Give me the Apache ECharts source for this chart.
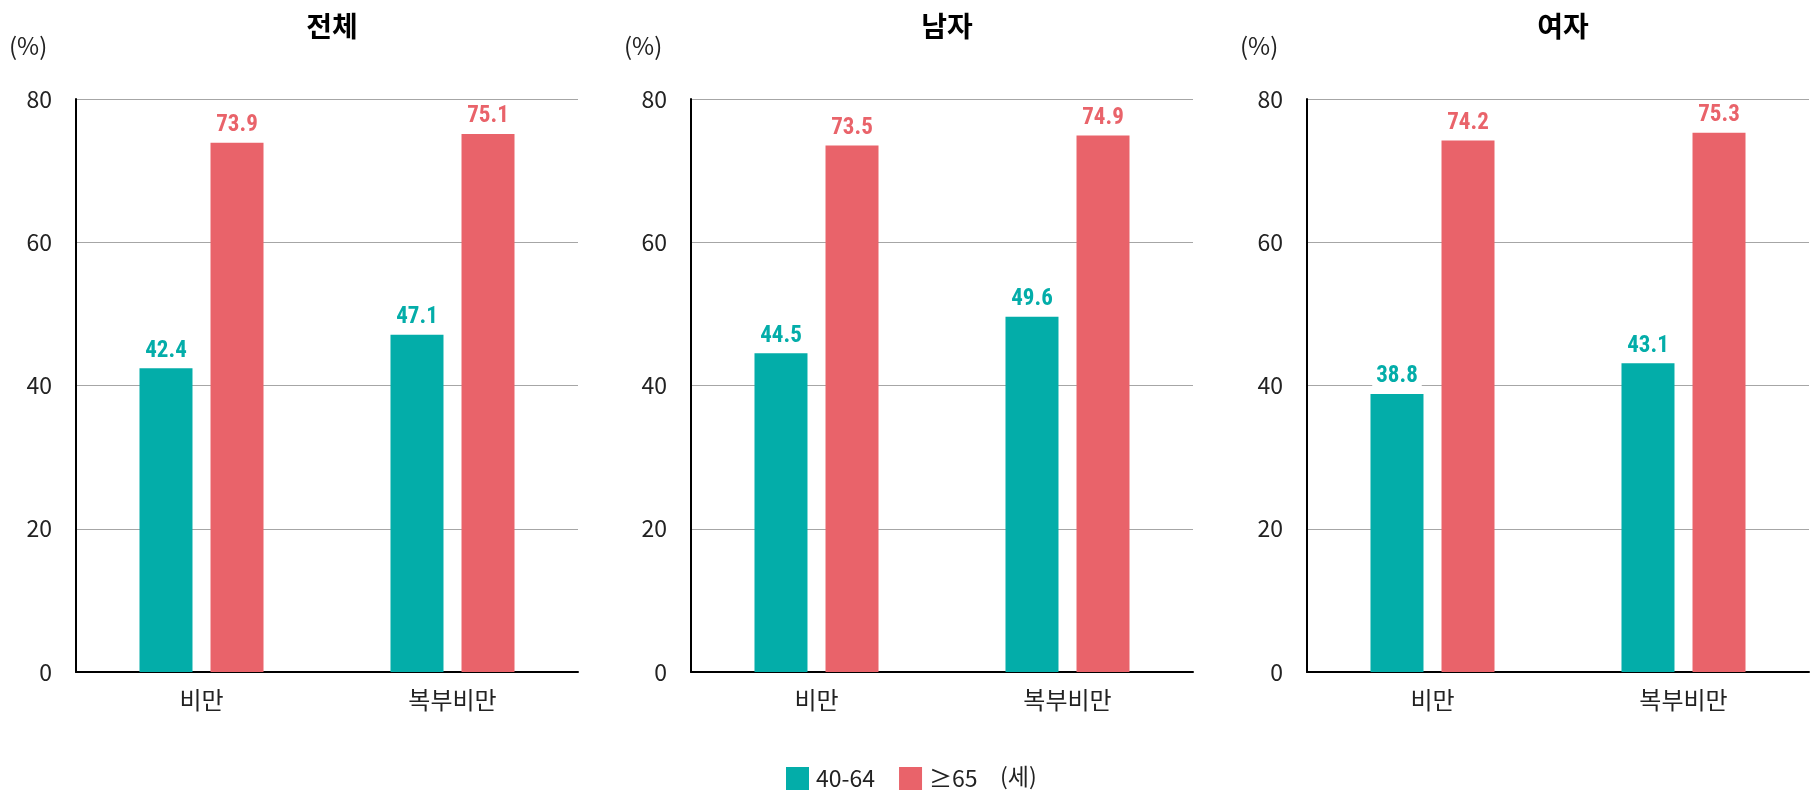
<!DOCTYPE html>
<html><head><meta charset="utf-8">
<script src="https://cdn.jsdelivr.net/npm/echarts@6/dist/echarts.min.js"></script>
<style>html,body{margin:0;padding:0;background:#fff}#c{width:1813px;height:793px}</style>
</head><body><div id="c"></div>
<script>
const categories = ['비만', '복부비만'];
const panelTitles = ['전체', '남자', '여자'];
const seriesNames = ['40-64', '≥65'];
const total_4064 = [42.4, 47.1];
const total_65 = [73.9, 75.1];
const male_4064 = [44.5, 49.6];
const male_65 = [73.5, 74.9];
const female_4064 = [38.8, 43.1];
const female_65 = [74.2, 75.3];
const yTicks = [0, 20, 40, 60, 80];

const panels = [[total_4064, total_65], [male_4064, male_65], [female_4064, female_65]];
const colors = ['#03ADA9', '#E9636A'];
const gridLefts = [76, 691, 1307];
const gridWidth = 502;
const font = '"Noto Sans CJK KR", "Noto Sans", sans-serif';
const labelFont = '"Liberation Sans Narrow", "Roboto Condensed", "Liberation Sans", sans-serif';

const grids = [], xAxes = [], yAxes = [], series = [], titles = [], graphics = [];
panels.forEach((p, i) => {
  grids.push({left: gridLefts[i], width: gridWidth, top: 99, height: 573});
  xAxes.push({type: 'category', gridIndex: i, data: categories,
    axisLine: {lineStyle: {color: '#000', width: 2}}, axisTick: {show: false},
    axisLabel: {color: '#222', fontSize: 24, fontFamily: font, margin: 16}});
  yAxes.push({type: 'value', gridIndex: i, min: yTicks[0], max: yTicks[yTicks.length - 1], interval: 20,
    axisLine: {show: true, lineStyle: {color: '#000', width: 2}}, axisTick: {show: false},
    splitLine: {lineStyle: {color: '#a6a6a6', width: 1}},
    axisLabel: {color: '#222', fontSize: 23, fontFamily: font, margin: 24}});
  p.forEach((vals, s) => {
    series.push({type: 'bar', name: seriesNames[s], xAxisIndex: i, yAxisIndex: i, data: vals,
      barWidth: 53, barGap: '34%', itemStyle: {color: colors[s]},
      label: {show: true, position: 'top', distance: 6, color: colors[s], fontSize: 23,
        fontWeight: 'bold', fontFamily: labelFont, backgroundColor: '#fff', padding: [0, 4],
        formatter: (d) => d.value.toFixed(1)}});
  });
  titles.push({text: panelTitles[i], left: gridLefts[i] + gridWidth / 2, top: 7, textAlign: 'center',
    textStyle: {fontSize: 28, fontWeight: 'bold', color: '#000', fontFamily: font}});
  graphics.push({type: 'text', left: gridLefts[i] - 67, top: 34,
    style: {text: '(%)', fill: '#222', font: '24px ' + font}});
});
graphics.push({type: 'text', left: 1000, top: 765,
  style: {text: '(세)', fill: '#222', font: '23px ' + font}});

const chart = echarts.init(document.getElementById('c'));
chart.setOption({
  animation: false,
  title: titles,
  grid: grids, xAxis: xAxes, yAxis: yAxes, series: series,
  legend: {data: seriesNames, left: 781, top: 762, itemWidth: 23, itemHeight: 23, itemGap: 24,
    icon: 'rect', textStyle: {fontSize: 23, color: '#222', fontFamily: font, padding: [0, 0, 0, 2]}},
  graphic: graphics
});
</script></body></html>
